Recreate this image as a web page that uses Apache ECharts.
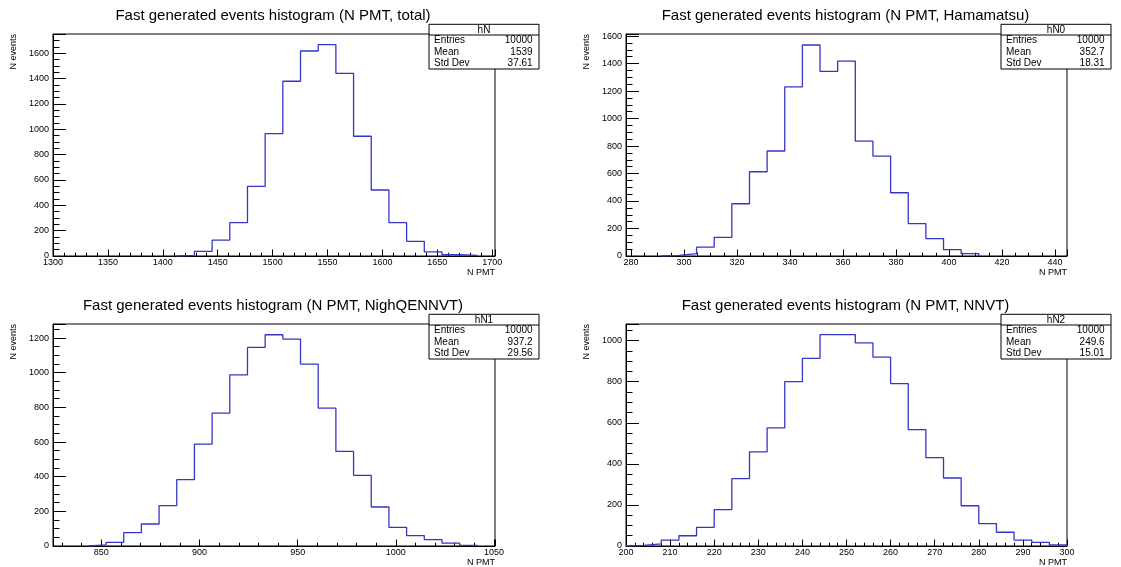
<!DOCTYPE html>
<html>
<head>
<meta charset="utf-8">
<title>N PMT histograms</title>
<script src="https://cdn.jsdelivr.net/npm/echarts@6/dist/echarts.min.js"></script>
<style>
  html, body { margin: 0; padding: 0; background: #fff; }
  #chart { width: 1121px; height: 567px; }
</style>
</head>
<body>
<div id="chart"></div>
<script>
// bin contents, 25 equal bins over each range
const hNCounts  = [0, 0, 0, 0, 0, 0, 0, 5, 37, 126, 263, 550, 966, 1379, 1618, 1668, 1442, 945, 521, 263, 116, 32, 10, 5, 0];
const hN0Counts = [0, 0, 5, 17, 65, 136, 380, 613, 764, 1231, 1535, 1343, 1418, 835, 727, 460, 236, 127, 46, 17, 0, 0, 0, 0, 0];
const hN1Counts = [0, 0, 6, 21, 77, 127, 233, 383, 588, 767, 987, 1146, 1219, 1194, 1050, 796, 546, 408, 225, 108, 60, 37, 17, 4, 0];
const hN2Counts = [3, 10, 29, 50, 91, 177, 328, 458, 575, 800, 914, 1029, 1029, 989, 920, 791, 567, 430, 331, 196, 109, 67, 29, 18, 5];

const hNRange  = [1300, 1702.5];
const hN0Range = [278.1, 444.5];
const hN1Range = [825.4, 1050.5];
const hN2Range = [200, 300];

const yMaxes = [1752, 1615, 1281, 1081];
const xMajor = [50, 20, 50, 10];
const xMinor = [10, 5, 10, 2];
const yMajor = [200, 200, 200, 200];
const yMinor = [50, 50, 50, 50];

const titles = [
  'Fast generated events histogram (N PMT, total)',
  'Fast generated events histogram (N PMT, Hamamatsu)',
  'Fast generated events histogram (N PMT, NighQENNVT)',
  'Fast generated events histogram (N PMT, NNVT)'
];
const statNames   = ['hN', 'hN0', 'hN1', 'hN2'];
const statEntries = ['10000', '10000', '10000', '10000'];
const statMeans   = ['1539', '352.7', '937.2', '249.6'];
const statStdDevs = ['37.61', '18.31', '29.56', '15.01'];

const xTitle = 'N PMT';
const yTitle = 'N events';

// layout of the four frames (px)
const frames = [
  { left: 53,  top: 34,  width: 442, height: 222 },
  { left: 626, top: 34,  width: 441, height: 222 },
  { left: 53,  top: 324, width: 442, height: 222 },
  { left: 626, top: 324, width: 441, height: 222 }
];

const FONT = '"Liberation Sans", Arial, Helvetica, sans-serif';
const HIST_COLOR = '#3535c8';

const panels = [
  { counts: hNCounts,  range: hNRange },
  { counts: hN0Counts, range: hN0Range },
  { counts: hN1Counts, range: hN1Range },
  { counts: hN2Counts, range: hN2Range }
];

// outline of a histogram as step points
function stepPoints(counts, range) {
  const w = (range[1] - range[0]) / counts.length;
  let first = counts.findIndex(c => c > 0);
  let last = counts.length - 1;
  while (last > 0 && counts[last] === 0) last--;
  const pts = [[range[0] + first * w, 0]];
  for (let i = first; i <= last; i++) {
    pts.push([range[0] + i * w, counts[i]]);
    pts.push([range[0] + (i + 1) * w, counts[i]]);
  }
  pts.push([range[0] + (last + 1) * w, 0]);
  return pts;
}

function onStep(step) {
  return v => {
    const r = v / step;
    return Math.abs(r - Math.round(r)) < 1e-6 ? String(Math.round(v)) : '';
  };
}

const chart = echarts.init(document.getElementById('chart'));

const grid = [], xAxis = [], yAxis = [], series = [], graphic = [];

panels.forEach((p, i) => {
  const f = frames[i];
  grid.push({
    left: f.left, top: f.top, width: f.width, height: f.height,
    show: true, borderColor: '#000', borderWidth: 1, backgroundColor: 'transparent'
  });

  const lineStyle = { color: '#000', width: 1 };
  // main x axis: labelled ticks
  xAxis.push({
    type: 'value', gridIndex: i, position: 'bottom',
    min: p.range[0], max: p.range[1],
    minInterval: xMajor[i], maxInterval: xMajor[i],
    axisLine: { show: true, onZero: false, lineStyle },
    axisTick: { show: true, inside: true, length: 6.5, lineStyle },
    axisLabel: { margin: 2, fontSize: 9, color: '#000', fontFamily: FONT, formatter: onStep(xMajor[i]), hideOverlap: false },
    splitLine: { show: false }
  });
  // secondary x axis: minor ticks only
  xAxis.push({
    type: 'value', gridIndex: i, position: 'bottom',
    min: p.range[0], max: p.range[1],
    minInterval: xMinor[i], maxInterval: xMinor[i],
    axisLine: { show: false, onZero: false },
    axisTick: { show: true, inside: true, length: 3.3, lineStyle },
    axisLabel: { show: false },
    splitLine: { show: false }
  });
  yAxis.push({
    type: 'value', gridIndex: i, position: 'left',
    min: 0, max: yMaxes[i],
    minInterval: yMajor[i], maxInterval: yMajor[i],
    axisLine: { show: true, onZero: false, lineStyle },
    axisTick: { show: true, inside: true, length: 13, lineStyle },
    axisLabel: { margin: 4, fontSize: 9, color: '#000', fontFamily: FONT, formatter: onStep(yMajor[i]), hideOverlap: false },
    splitLine: { show: false }
  });
  yAxis.push({
    type: 'value', gridIndex: i, position: 'left',
    min: 0, max: yMaxes[i],
    minInterval: yMinor[i], maxInterval: yMinor[i],
    axisLine: { show: false, onZero: false },
    axisTick: { show: true, inside: true, length: 6.5, lineStyle },
    axisLabel: { show: false },
    splitLine: { show: false }
  });

  series.push({
    type: 'line',
    xAxisIndex: 2 * i, yAxisIndex: 2 * i,
    data: stepPoints(p.counts, p.range),
    symbol: 'none', showSymbol: false,
    lineStyle: { color: HIST_COLOR, width: 1.3 },
    silent: true
  });

  // pad title
  graphic.push({
    type: 'text', z: 100,
    x: f.left + f.width / 2 - 1, y: f.top - 18,
    style: { text: titles[i], fill: '#000', font: '15px ' + FONT, align: 'center', verticalAlign: 'middle' }
  });
  // axis titles
  graphic.push({
    type: 'text', z: 100,
    x: f.left + f.width, y: f.top + f.height + 16.5,
    style: { text: xTitle, fill: '#000', font: '9px ' + FONT, align: 'right', verticalAlign: 'middle' }
  });
  graphic.push({
    type: 'text', z: 100, rotation: Math.PI / 2,
    x: f.left - 39.5, y: f.top,
    style: { text: yTitle, fill: '#000', font: '9px ' + FONT, align: 'right', verticalAlign: 'middle' }
  });

  // stats box
  const bx = f.left + f.width - 66, by = f.top - 9.7, bw = 110, bh = 44.7;
  graphic.push({
    type: 'rect', z: 100,
    shape: { x: bx, y: by, width: bw, height: bh },
    style: { fill: '#fff', stroke: '#000', lineWidth: 1 }
  });
  graphic.push({
    type: 'line', z: 101,
    shape: { x1: bx, y1: by + 10.7, x2: bx + bw, y2: by + 10.7 },
    style: { stroke: '#000', lineWidth: 1 }
  });
  graphic.push({
    type: 'text', z: 101, x: bx + bw / 2, y: by + 5.6,
    style: { text: statNames[i], fill: '#000', font: '10px ' + FONT, align: 'center', verticalAlign: 'middle' }
  });
  const rows = [['Entries', statEntries[i]], ['Mean', statMeans[i]], ['Std Dev', statStdDevs[i]]];
  rows.forEach((r, k) => {
    const ry = by + 16.4 + k * 11.3;
    graphic.push({
      type: 'text', z: 101, x: bx + 5, y: ry,
      style: { text: r[0], fill: '#000', font: '10px ' + FONT, align: 'left', verticalAlign: 'middle' }
    });
    graphic.push({
      type: 'text', z: 101, x: bx + bw - 6.4, y: ry,
      style: { text: r[1], fill: '#000', font: '10px ' + FONT, align: 'right', verticalAlign: 'middle' }
    });
  });
});

chart.setOption({
  animation: false,
  backgroundColor: '#fff',
  grid, xAxis, yAxis, series, graphic
});
</script>
</body>
</html>
